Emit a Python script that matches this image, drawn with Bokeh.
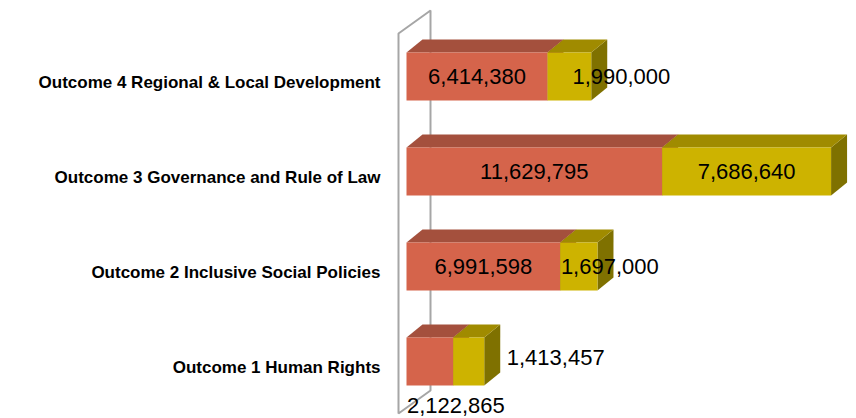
from bokeh.plotting import figure
from bokeh.models import Range1d, ColumnDataSource
from bokeh.core.properties import value
from bokeh.embed import file_html
from bokeh.resources import INLINE

# ---------------- data ----------------
categories = ["Outcome 1 Human Rights",
              "Outcome 2 Inclusive Social Policies",
              "Outcome 3 Governance and Rule of Law",
              "Outcome 4 Regional & Local Development"]
series_a = [2122865, 6991598, 11629795, 6414380]   # red segment
series_b = [1413457, 1697000, 7686640, 1990000]    # yellow segment

# ---------------- styling / geometry ----------------
W, H = 856, 418
PX_PER_UNIT = 2.198e-5          # horizontal scale (pixels per value unit)
ZERO_PX = 406                   # pixel column of value 0
PX_PER_CAT = 95.0               # vertical pixels per category step
BOTTOM_PX = 57                  # pixels below first category centre
BAR_H = 48 / PX_PER_CAT         # front face height (y units)
DX = 16 / PX_PER_UNIT           # 3D depth offset, x
DY = 13 / PX_PER_CAT            # 3D depth offset, y

RED_FRONT, RED_TOP, RED_SIDE = "#D5644B", "#A4503D", "#8E4433"
YEL_FRONT, YEL_TOP, YEL_SIDE = "#CDB300", "#A08B00", "#7F7100"
WALL = "#A6A6A6"
FONT = "Liberation Sans"

# label nudges (screen px) for the value labels, per category
a_dx = [26, 0, 0, 0]
a_dy = [44, 0, 0, 0]
b_dx = [87, 31, 0, 52]
b_dy = [-4, 0, 0, 0]

x_start = -ZERO_PX / PX_PER_UNIT
x_end = (W - ZERO_PX) / PX_PER_UNIT
y_start = -BOTTOM_PX / PX_PER_CAT
y_end = (H - BOTTOM_PX) / PX_PER_CAT

p = figure(width=W, height=H, output_backend="svg", toolbar_location=None,
           x_range=Range1d(x_start, x_end), y_range=Range1d(y_start, y_end),
           x_axis_location=None, y_axis_location=None, min_border=0,
           background_fill_color="white", border_fill_color="white")
p.grid.visible = False
p.outline_line_color = None

# ---- back wall (3D panel outline) ----
wf = -8 / PX_PER_UNIT
wb = 24 / PX_PER_UNIT
w_top_f = y_start + (H - 33) / PX_PER_CAT
w_bot_f = y_start + (H - 413) / PX_PER_CAT
w_top_b = y_start + (H - 10) / PX_PER_CAT
w_bot_b = y_start + (H - 390) / PX_PER_CAT
p.patch([wf, wf, wb, wb], [w_bot_f, w_top_f, w_top_b, w_bot_b],
        fill_color=None, line_color=WALL, line_width=2)

# ---- 3D bars ----
def box(lefts, rights, front, top, side):
    fx, fy, tx, ty, sx, sy = [], [], [], [], [], []
    for i, (l, r) in enumerate(zip(lefts, rights)):
        b = i - BAR_H / 2
        t = i + BAR_H / 2
        fx.append([l, r, r, l]); fy.append([b, b, t, t])
        tx.append([l, r, r + DX, l + DX]); ty.append([t, t, t + DY, t + DY])
        sx.append([r, r + DX, r + DX, r]); sy.append([b, b + DY, t + DY, t])
    p.patches(sx, sy, fill_color=side, line_color=None)
    p.patches(tx, ty, fill_color=top, line_color=None)
    p.patches(fx, fy, fill_color=front, line_color=None)

a_left = [0] * len(series_a)
a_right = list(series_a)
b_left = list(series_a)
b_right = [a + b for a, b in zip(series_a, series_b)]
box(a_left, a_right, RED_FRONT, RED_TOP, RED_SIDE)
box(b_left, b_right, YEL_FRONT, YEL_TOP, YEL_SIDE)

# ---- value labels ----
ys = list(range(len(categories)))
src_a = ColumnDataSource(dict(x=[v / 2 for v in series_a], y=ys,
                              t=[f"{v:,}" for v in series_a], dx=a_dx, dy=a_dy))
src_b = ColumnDataSource(dict(x=[a + b / 2 for a, b in zip(series_a, series_b)], y=ys,
                              t=[f"{v:,}" for v in series_b], dx=b_dx, dy=b_dy))
for src in (src_a, src_b):
    p.text(x="x", y="y", text="t", x_offset="dx", y_offset="dy", source=src,
           text_align="center", text_baseline="middle",
           text_font=value(FONT), text_font_size="22px", text_color="black")

# ---- category labels ----
p.text(x=[0] * len(categories), y=ys, text=categories, x_offset=-26, y_offset=6,
       text_align="right", text_baseline="middle", text_font=value(FONT),
       text_font_style="bold", text_font_size="17px", text_color="black")

open("out.html", "w").write(file_html(p, INLINE))
